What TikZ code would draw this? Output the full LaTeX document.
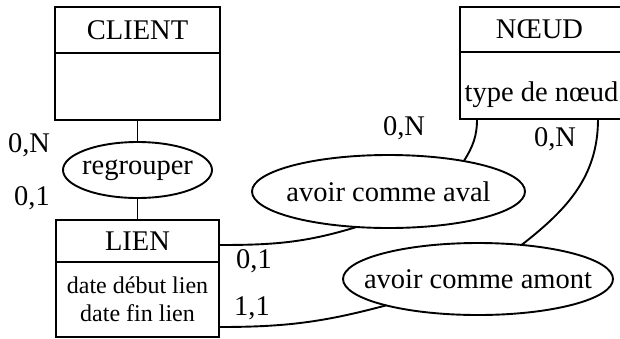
\documentclass[tikz,border=0pt]{standalone}
\usepackage{fontspec}
\setmainfont{Liberation Serif}
\usetikzlibrary{positioning,shapes.geometric,calc}
\tikzset{
    er font/.style={font=\fontsize{28.5}{32}\selectfont},
    er head/.style={
        draw,
        line width=1.9pt,
        outer sep=0pt,
        inner sep=0pt,
        minimum width=165pt,
        er font
    },
    er body/.style={er head, minimum height=67pt},
    er attr/.style={font=\fontsize{24}{28}\selectfont, align=center, inner sep=0pt},
    er assoc/.style={
        draw,
        ellipse,
        line width=1.9pt,
        outer sep=0pt,
        inner ysep=0pt,
        inner xsep=-25pt,
        er font
    },
    er card/.style={er font, inner sep=0pt},
    er link/.style={line width=1.9pt}
}

\begin{document}
\begin{tikzpicture}[x=1pt, y=1pt]
\useasboundingbox (0,0) rectangle (620,-338);
% Entities
\node[er head, minimum height=46pt] (client) at (137.5,-30) {CLIENT};
\node[er body, below=0pt of client] (clientb) {};
\node[er assoc, below=22pt of clientb, minimum width=149pt, minimum height=56pt] (regrouper) {regrouper};
\node[er head, below=22pt of regrouper, minimum height=42pt, minimum width=163pt] (lien) {LIEN};
\node[er body, below=0pt of lien, minimum height=75pt, minimum width=163pt] (lienb) {};
\node[er attr] (lienattr) at (lienb) {date début lien\\date fin lien};
\node[er head, minimum height=45pt, minimum width=166pt] (noeud) at (543,-29.5) {\hspace*{-7pt}NŒUD};
\node[er body, below=0pt of noeud, minimum width=166pt] (noeudb) {};
\node[er font, inner sep=0pt] (noeudattr) at (541.5,-95) {type de nœud};

% Associations
\node[er assoc, minimum width=273pt, minimum height=73pt] (aval) at (388.5,-191.5) {avoir comme aval};
\node[er assoc, minimum width=270pt, minimum height=72pt] (amont) at (478,-279) {avoir comme amont};

% Links
\draw[er link] (clientb) -- (regrouper);
\draw[er link] (regrouper) -- (lien);
\draw[er link] ($(noeudb.south west)+(17,0)$) to[out=-90, in=58] (aval.22);
\draw[er link] ($(noeudb.south west)+(138,0)$) to[out=-90, in=38] (amont.38);
\draw[er link] ($(lien.east)+(0,-4)$) to[out=0, in=-163] (aval.228);
\draw[er link] ($(lienb.east)+(0,-27.5)$) to[out=0, in=-165] (amont.196);

% Cardinalities
\node[er card] (c1) at (29,-145) {0,N};
\node[er card] (c2) at (32,-198) {0,1};
\node[er card] (c3) at (404,-128) {0,N};
\node[er card] (c4) at (555,-139) {0,N};
\node[er card] (c5) at (254,-261) {0,1};
\node[er card] (c6) at (252,-308) {1,1};
\end{tikzpicture}
\end{document}
